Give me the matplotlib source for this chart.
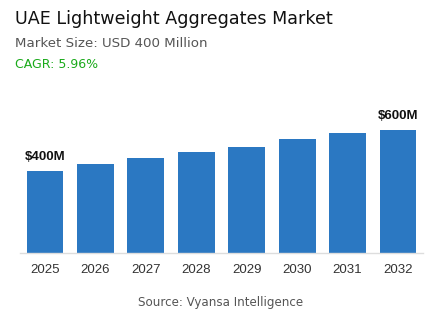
import matplotlib.pyplot as plt

years = ["2025", "2026", "2027", "2028", "2029", "2030", "2031", "2032"]
values = [400, 434, 462, 492, 518, 554, 585, 600]
labels = {0: "$400M", 7: "$600M"}

fig = plt.figure(figsize=(4.43, 3.32), dpi=100)
fig.patch.set_facecolor("white")

ax = fig.add_axes([0.0447, 0.237, 0.9106, 0.462])
x = range(len(years))
ax.bar(x, values, width=0.73, color="#2b78c2")
ax.set_xlim(-0.5, len(years) - 0.5)
ax.set_ylim(0, 745)
ax.set_xticks(list(x))
ax.set_xticklabels(years, fontsize=9.5, color="#333333", family="Liberation Sans")
ax.tick_params(axis="x", length=0, pad=8)
ax.set_yticks([])
for s in ["top", "right", "left"]:
    ax.spines[s].set_visible(False)
ax.spines["bottom"].set_color("#dddddd")
ax.spines["bottom"].set_linewidth(1)

for i, t in labels.items():
    ax.annotate(t, (i, values[i]), xytext=(0, 5.5), textcoords="offset points",
                ha="center", va="bottom", fontsize=9.5, fontweight="bold",
                family="Liberation Sans", color="#111111")

fig.text(0.034, 0.942, "UAE Lightweight Aggregates Market", fontsize=12.6,
         color="#111111", family="DejaVu Sans", va="center")
fig.text(0.034, 0.87, "Market Size: USD 400 Million", fontsize=9.6,
         color="#555555", family="DejaVu Sans", va="center")
fig.text(0.034, 0.807, "CAGR: 5.96%", fontsize=9, color="#1aaa1a",
         family="DejaVu Sans", va="center")
fig.text(0.497, 0.09, "Source: Vyansa Intelligence", fontsize=8.6,
         color="#555555", family="DejaVu Sans", ha="center", va="center")

fig.savefig("out.png", dpi=100)
